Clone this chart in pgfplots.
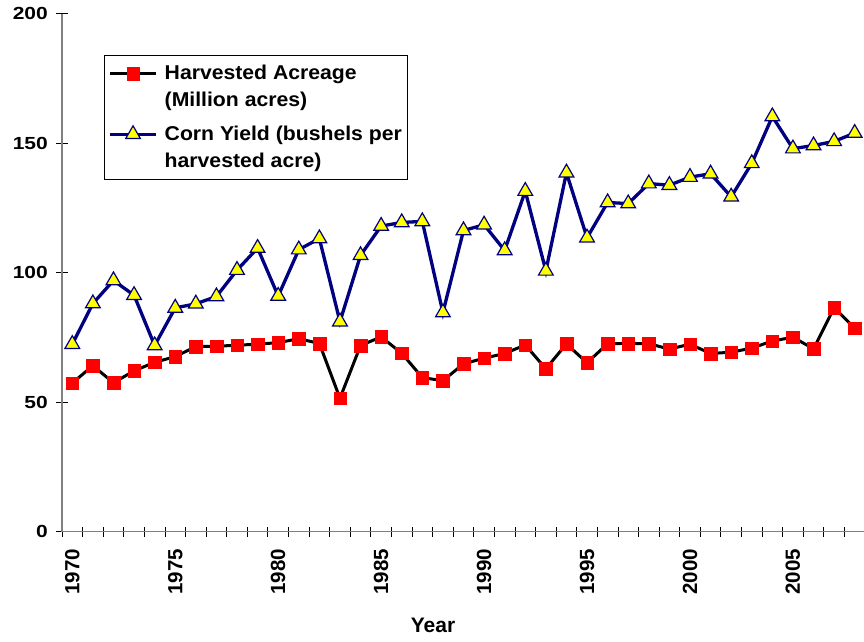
\documentclass[border=0pt]{standalone}
\usepackage{pgfplots}
\pgfplotsset{compat=1.18}
\usepackage{fontspec}
\setmainfont{Liberation Sans}
\newfontfamily\ytickfont{Liberation Sans}[FakeStretch=1.2]
\newfontfamily\legfont{Liberation Sans}[FakeStretch=1.06]
\definecolor{yieldline}{RGB}{0,0,128}
\definecolor{yieldfill}{RGB}{255,255,0}
\definecolor{acrefill}{RGB}{255,0,0}
\definecolor{axisgray}{RGB}{128,128,128}

\begin{document}
\begin{tikzpicture}
\begin{axis}[
  at={(0,0)}, anchor=south west, scale only axis,
  width=803bp, height=518bp,
  xmin=1969.5, xmax=2008.5, ymin=0, ymax=200,
  axis x line*=bottom, axis y line*=left,
  axis line style={-, draw=axisgray, line width=1.3bp},
  xtick={1970,1975,...,2005},
  minor xtick={1969.5,1970.5,...,2008.5},
  ytick={0,50,...,200},
  tick align=center, major tick length=12bp, minor tick length=10bp,
  every major x tick/.style={draw=none},
  tick style={black, line width=0.8bp},
  /pgf/number format/assume math mode=true,
  /pgf/number format/1000 sep={},
  xticklabel style={rotate=90, anchor=east, inner sep=0pt,
    font=\bfseries\fontsize{20.5bp}{24bp}\selectfont, xshift=-11bp},
  yticklabel style={anchor=east, inner sep=0pt, xshift=-8bp,
    font=\ytickfont\bfseries\fontsize{17.5bp}{20bp}\selectfont},
  xlabel={Year},
  xlabel style={at={(rel axis cs:0.462,0)}, yshift=-101bp, anchor=base,
    font=\bfseries\fontsize{21bp}{24bp}\selectfont},
  legend style={at={(rel axis cs:0.0523,0.9203)}, anchor=north west,
    draw=black, line width=0.8bp, inner xsep=4bp, inner ysep=8bp,
    font=\legfont\bfseries\fontsize{20bp}{27bp}\selectfont,
    cells={anchor=west, align=left}, row sep=14bp},
  legend image code/.code={\draw[yshift=13.5bp,mark repeat=2,mark phase=2,#1]
    plot coordinates {(0bp,0bp) (23bp,0bp) (46bp,0bp)};
    \path (51bp,0bp);},
]
\addplot[black, line width=3bp, mark=square*, mark size=6.3bp,
  mark options={fill=acrefill, draw=acrefill, line width=0.3bp}]
  coordinates {
  (1970,57.4) (1971,64.1) (1972,57.5) (1973,62.1) (1974,65.4)
  (1975,67.6) (1976,71.5) (1977,71.6) (1978,72.0) (1979,72.4)
  (1980,73.0) (1981,74.5) (1982,72.7) (1983,51.5) (1984,71.9)
  (1985,75.2) (1986,68.9) (1987,59.5) (1988,58.3) (1989,64.8)
  (1990,67.0) (1991,68.8) (1992,72.1) (1993,62.9) (1994,72.5)
  (1995,65.2) (1996,72.6) (1997,72.7) (1998,72.6) (1999,70.5)
  (2000,72.4) (2001,68.8) (2002,69.3) (2003,70.9) (2004,73.6)
  (2005,75.1) (2006,70.6) (2007,86.5) (2008,78.6)};
\addlegendentry{Harvested Acreage\\(Million acres)}
\addplot[yieldline, line width=3.3bp, mark=triangle*, mark size=8.5bp,
  mark options={fill=yieldfill, draw=yieldline, line width=1.2bp}]
  coordinates {
  (1970,72.4) (1971,88.1) (1972,97.0) (1973,91.3) (1974,71.9)
  (1975,86.4) (1976,88.0) (1977,90.8) (1978,101.0) (1979,109.5)
  (1980,91.0) (1981,108.9) (1982,113.2) (1983,81.1) (1984,106.7)
  (1985,118.0) (1986,119.4) (1987,119.8) (1988,84.6) (1989,116.3)
  (1990,118.5) (1991,108.6) (1992,131.5) (1993,100.7) (1994,138.6)
  (1995,113.5) (1996,127.1) (1997,126.7) (1998,134.4) (1999,133.8)
  (2000,136.9) (2001,138.2) (2002,129.3) (2003,142.2) (2004,160.3)
  (2005,147.9) (2006,149.1) (2007,150.7) (2008,153.9)};
\addlegendentry{Corn Yield (bushels per\\harvested acre)}
\end{axis}
\pgfresetboundingbox
\path[use as bounding box] (-62bp,-110.3bp) rectangle (802bp,531.7bp);
\end{tikzpicture}
\end{document}
